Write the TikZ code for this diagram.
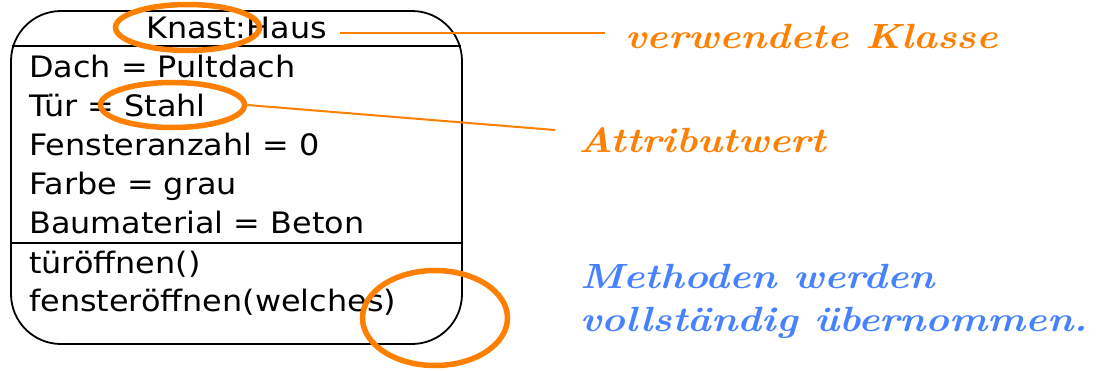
\documentclass[tikz,border=0pt]{standalone}
\usepackage{fontspec}
\usepackage{tikz}
\usetikzlibrary{shapes.geometric}
\newfontfamily\boxfont[FakeStretch=1.08]{DejaVu Sans}
\newfontfamily\handfont[FakeStretch=1.15]{Latin Modern Roman}
\definecolor{markorange}{HTML}{FF8000}
\definecolor{noteblue}{HTML}{4682FF}

\begin{document}
\begin{tikzpicture}[x=1pt, y=-1pt,
  objbox/.style={draw=black, line width=1.8pt, rounded corners=50pt,
    minimum width=451pt, minimum height=333pt, inner sep=0pt},
  entry/.style={anchor=base west, inner sep=0pt,
    font=\boxfont\fontsize{29.5}{35}\selectfont},
  ring/.style={ellipse, draw=markorange, line width=5.5pt, inner sep=0pt},
  note/.style={anchor=base west, inner sep=0pt, text=markorange,
    font=\handfont\bfseries\itshape\fontsize{35}{42}\selectfont},
  pointer/.style={draw=markorange, line width=2pt}
]
  \useasboundingbox (0,0) rectangle (1108,370);

  % object box
  \node[objbox] (haus) at (236.5,177.5) {};
  \draw[line width=1.8pt] (12,46) -- (461,46);
  \draw[line width=1.8pt] (haus.west |- 0,243) -- (haus.east |- 0,243);

  \node[entry, anchor=base] (titel) at (236.5,38) {Knast:Haus};
  \node[entry] (dach)     at (29,77)  {Dach = Pultdach};
  \node[entry] (tuer)     at (29,116) {Tür = Stahl};
  \node[entry] (fenster)  at (29,155) {Fensteranzahl = 0};
  \node[entry] (farbe)    at (29,194) {Farbe = grau};
  \node[entry] (material) at (29,233) {Baumaterial = Beton};
  \node[entry] (oeffnen)  at (29,273) {türöffnen()};
  \node[entry] (fensteroeffnen) at (29,311) {fensteröffnen(welches)};

  % markings
  \node[ring, minimum width=144pt, minimum height=46pt] (knastring) at (187.5,27.5) {};
  \node[ring, minimum width=144pt, minimum height=45pt] (stahlring) at (172.5,105) {};
  \node[ring, minimum width=145pt, minimum height=95pt] (methodring) at (435,318) {};

  \node[note] (klasse) at (625,48) {verwendete Klasse};
  \node[note] (wert)   at (578,152) {Attributwert};
  \node[note, text=noteblue] (methoden) at (580,288) {Methoden werden};
  \node[note, text=noteblue] (uebernommen) at (580,331) {vollständig übernommen.};

  \coordinate (klassepunkt) at (605,33);
  \coordinate (wertpunkt) at (555,130);
  \draw[pointer] (340,33) -- (klassepunkt);
  \draw[pointer] (stahlring.east) -- (wertpunkt);
\end{tikzpicture}
\end{document}
